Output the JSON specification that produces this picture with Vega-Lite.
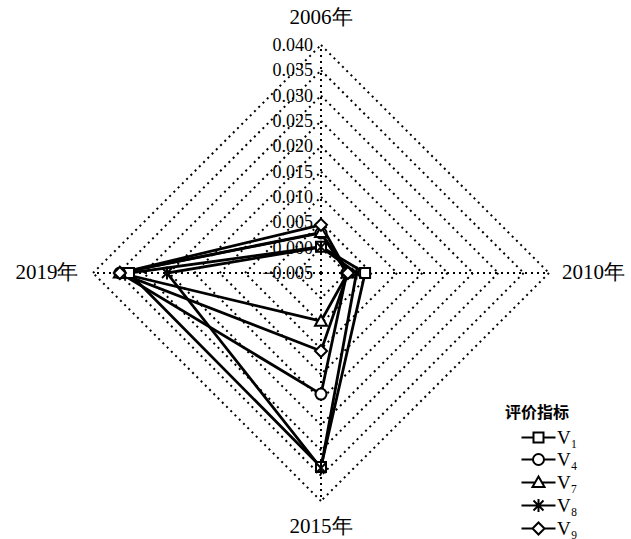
{
  "$schema": "https://vega.github.io/schema/vega-lite/v6.json",
  "autosize": {"type": "none"},
  "padding": {"left": 93, "top": 45, "right": 82, "bottom": 38},
  "width": 456,
  "height": 456,
  "background": "white",
  "config": {"view": {"stroke": null}},
  "datasets": {
    "pts": [
      {"s": "V₁", "year": "2006年", "value": 0.0002},
      {"s": "V₁", "year": "2010年", "value": 0.0037},
      {"s": "V₁", "year": "2015年", "value": 0.0333},
      {"s": "V₁", "year": "2019年", "value": 0.0329},
      {"s": "V₄", "year": "2006年", "value": 0.0029},
      {"s": "V₄", "year": "2010年", "value": 0.0001},
      {"s": "V₄", "year": "2015年", "value": 0.0189},
      {"s": "V₄", "year": "2019年", "value": 0.0347},
      {"s": "V₇", "year": "2006年", "value": 0.0030},
      {"s": "V₇", "year": "2010年", "value": 0.0003},
      {"s": "V₇", "year": "2015年", "value": 0.0045},
      {"s": "V₇", "year": "2019年", "value": 0.0347},
      {"s": "V₈", "year": "2006年", "value": 0.0001},
      {"s": "V₈", "year": "2010年", "value": 0.0020},
      {"s": "V₈", "year": "2015年", "value": 0.0335},
      {"s": "V₈", "year": "2019年", "value": 0.0254},
      {"s": "V₉", "year": "2006年", "value": 0.0045},
      {"s": "V₉", "year": "2010年", "value": 0.0003},
      {"s": "V₉", "year": "2015年", "value": 0.0104},
      {"s": "V₉", "year": "2019年", "value": 0.0347}
    ],
    "levels": [
      {"v": -0.005}, {"v": 0.000}, {"v": 0.005}, {"v": 0.010}, {"v": 0.015},
      {"v": 0.020}, {"v": 0.025}, {"v": 0.030}, {"v": 0.035}, {"v": 0.040}
    ],
    "axes": [
      {"year": "2006年"}, {"year": "2010年"}, {"year": "2015年"}, {"year": "2019年"}
    ]
  },
  "layer": [
    {
      "data": {"name": "levels"},
      "transform": [
        {"filter": "datum.v > -0.005"},
        {"calculate": "datum.v + 0.005", "as": "r"},
        {"calculate": "-datum.r", "as": "nr"},
        {"calculate": "0", "as": "z"}
      ],
      "layer": [
        {
          "mark": {"type": "rule", "stroke": "black", "strokeWidth": 2, "strokeDash": [2, 4]},
          "encoding": {
            "x": {"field": "z", "type": "quantitative", "scale": {"domain": [-0.045, 0.045], "nice": false, "zero": false}, "axis": null},
            "y": {"field": "r", "type": "quantitative", "scale": {"domain": [-0.045, 0.045], "nice": false, "zero": false}, "axis": null},
            "x2": {"field": "r"},
            "y2": {"field": "z"}
          }
        },
        {
          "mark": {"type": "rule", "stroke": "black", "strokeWidth": 2, "strokeDash": [2, 4]},
          "encoding": {
            "x": {"field": "r", "type": "quantitative", "axis": null},
            "y": {"field": "z", "type": "quantitative", "axis": null},
            "x2": {"field": "z"},
            "y2": {"field": "nr"}
          }
        },
        {
          "mark": {"type": "rule", "stroke": "black", "strokeWidth": 2, "strokeDash": [2, 4]},
          "encoding": {
            "x": {"field": "z", "type": "quantitative", "axis": null},
            "y": {"field": "nr", "type": "quantitative", "axis": null},
            "x2": {"field": "nr"},
            "y2": {"field": "z"}
          }
        },
        {
          "mark": {"type": "rule", "stroke": "black", "strokeWidth": 2, "strokeDash": [2, 4]},
          "encoding": {
            "x": {"field": "nr", "type": "quantitative", "axis": null},
            "y": {"field": "z", "type": "quantitative", "axis": null},
            "x2": {"field": "z"},
            "y2": {"field": "r"}
          }
        }
      ]
    },
    {
      "data": {"name": "axes"},
      "transform": [
        {"calculate": "0", "as": "z"},
        {"calculate": "datum.year == '2010年' ? 0.045 : datum.year == '2019年' ? -0.045 : 0", "as": "ex"},
        {"calculate": "datum.year == '2006年' ? 0.045 : datum.year == '2015年' ? -0.045 : 0", "as": "ey"},
        {"calculate": "datum.year == '2010年' ? 0.0538 : datum.year == '2019年' ? -0.0541 : 0", "as": "lx"},
        {"calculate": "datum.year == '2006年' ? 0.0503 : datum.year == '2015年' ? -0.0502 : 0", "as": "ly"}
      ],
      "layer": [
        {
          "mark": {"type": "rule", "stroke": "black", "strokeWidth": 2, "strokeDash": [2, 4]},
          "encoding": {
            "x": {"field": "z", "type": "quantitative", "axis": null},
            "y": {"field": "z", "type": "quantitative", "axis": null},
            "x2": {"field": "ex"},
            "y2": {"field": "ey"}
          }
        },
        {
          "mark": {"type": "text", "font": "Liberation Serif", "fontSize": 21, "align": "center", "baseline": "middle", "color": "black"},
          "encoding": {
            "x": {"field": "lx", "type": "quantitative", "axis": null},
            "y": {"field": "ly", "type": "quantitative", "axis": null},
            "text": {"field": "year"}
          }
        }
      ]
    },
    {
      "data": {"name": "levels"},
      "transform": [{"calculate": "datum.v + 0.005", "as": "r"}, {"calculate": "0", "as": "z"}],
      "mark": {"type": "text", "font": "Liberation Serif", "fontSize": 18, "align": "right", "baseline": "middle", "dx": -8, "dy": 1, "color": "black"},
      "encoding": {
        "x": {"field": "z", "type": "quantitative", "axis": null},
        "y": {"field": "r", "type": "quantitative", "axis": null},
        "text": {"field": "v", "type": "quantitative", "format": ".3f"}
      }
    },
    {
      "data": {"name": "pts"},
      "transform": [
        {"calculate": "datum.value + 0.005", "as": "r"},
        {"calculate": "datum.year == '2010年' ? datum.r : datum.year == '2019年' ? -datum.r : 0", "as": "px"},
        {"calculate": "datum.year == '2006年' ? datum.r : datum.year == '2015年' ? -datum.r : 0", "as": "py"},
        {"calculate": "indexof(['2006年','2010年','2015年','2019年'], datum.year)", "as": "k"}
      ],
      "layer": [
        {
          "mark": {"type": "line", "interpolate": "linear-closed", "stroke": "black", "strokeWidth": 2.8},
          "encoding": {
            "x": {"field": "px", "type": "quantitative", "axis": null},
            "y": {"field": "py", "type": "quantitative", "axis": null},
            "detail": {"field": "s", "type": "nominal"},
            "order": {"field": "k", "type": "quantitative"}
          }
        },
        {
          "mark": {"type": "point", "filled": true, "fill": "white", "stroke": "black", "size": 100, "opacity": 1},
          "encoding": {
            "x": {"field": "px", "type": "quantitative", "axis": null},
            "y": {"field": "py", "type": "quantitative", "axis": null},
            "strokeWidth": {
              "field": "s",
              "type": "nominal",
              "scale": {"domain": ["V₁", "V₄", "V₇", "V₈", "V₉"], "range": [2, 2, 2, 3.2, 2]},
              "legend": null
            },
            "shape": {
              "field": "s",
              "type": "nominal",
              "scale": {
                "domain": ["V₁", "V₄", "V₇", "V₈", "V₉"],
                "range": [
                  "M-1,-1H1V1H-1Z",
                  "M-1.1,0A1.1,1.1,0,1,1,1.1,0A1.1,1.1,0,1,1,-1.1,0Z",
                  "M0,-1.2L1.2,0.9H-1.2Z",
                  "M-1,-1L1,1M-1,1L1,-1M0,-1.3V1.3",
                  "M0,-1.2L1.2,0L0,1.2L-1.2,0Z"
                ]
              },
              "legend": null
            }
          }
        },
        {
          "transform": [{"filter": "false"}],
          "mark": {"type": "point", "filled": false, "color": "black", "strokeWidth": 2, "size": 100, "opacity": 1},
          "encoding": {
            "x": {"field": "px", "type": "quantitative", "axis": null},
            "y": {"field": "py", "type": "quantitative", "axis": null},
            "shape": {
              "field": "s",
              "type": "nominal",
              "scale": {
                "domain": ["V₁", "V₄", "V₇", "V₈", "V₉"],
                "range": [
                  "M1.4,0H3.8M5.8,0H8.2M3.8,-1H5.8V1H3.8Z",
                  "M1.4,0H3.7M5.9,0H8.2M3.7,0A1.1,1.1,0,1,1,5.9,0A1.1,1.1,0,1,1,3.7,0Z",
                  "M1.4,0H4.1M5.5,0H8.2M4.8,-1.2L6,0.9H3.6Z",
                  "M1.4,0H8.2M3.8,-1L5.8,1M3.8,1L5.8,-1M4.8,-1.3V1.3",
                  "M1.4,0H3.6M6,0H8.2M4.8,-1.2L6,0L4.8,1.2L3.6,0Z"
                ]
              },
              "legend": {
                "title": "评价指标",
                "orient": "none",
                "legendX": 412,
                "legendY": 360,
                "padding": 0,
                "titleFont": "Noto Sans CJK SC",
                "titleFontSize": 16,
                "titleFontWeight": "bold",
                "titleColor": "black",
                "titlePadding": 7,
                "labelFont": "Liberation Serif",
                "labelFontSize": 19,
                "labelColor": "black",
                "labelOffset": 33,
                "rowPadding": 2,
                "symbolSize": 100,
                "symbolStrokeWidth": 2,
                "symbolStrokeColor": "black",
                "symbolOpacity": 1
              }
            }
          }
        }
      ],
      "resolve": {"scale": {"shape": "independent"}, "legend": {"shape": "independent"}}
    }
  ]
}
